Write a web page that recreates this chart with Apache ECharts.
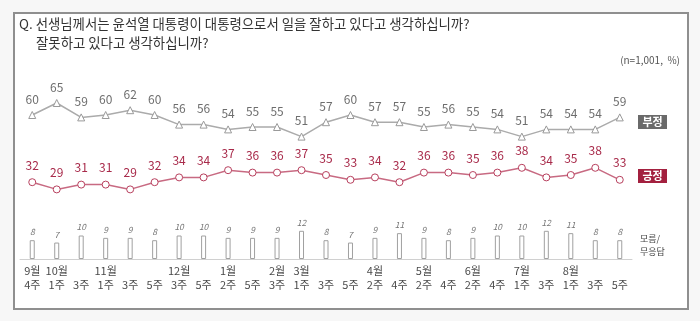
<!DOCTYPE html>
<html>
<head>
<meta charset="utf-8">
<script src="https://cdn.jsdelivr.net/npm/echarts@6/dist/echarts.min.js"></script>
<style>
html,body{margin:0;padding:0;background:#f7f7f7;}
#c{width:700px;height:321px;}
</style>
</head>
<body>
<div id="c"></div>
<script>
const months = ['9월','10월','','11월','','','12월','','1월','','2월','3월','','','4월','','5월','','6월','','7월','','8월','',''];
const weeks  = ['4주','1주','3주','1주','3주','5주','3주','5주','2주','5주','3주','1주','3주','5주','2주','4주','2주','4주','2주','4주','1주','3주','1주','3주','5주'];
const negative = [60,65,59,60,62,60,56,56,54,55,55,51,57,60,57,57,55,56,55,54,51,54,54,54,59];
const positive = [32,29,31,31,29,32,34,34,37,36,36,37,35,33,34,32,36,36,35,36,38,34,35,38,33];
const dontKnow = [8,7,10,9,9,8,10,10,9,9,9,12,8,7,9,11,9,8,9,10,10,12,11,8,8];
const categories = months.map((m, i) => m + '\n' + weeks[i]);

const FONT = '"Noto Sans CJK KR", "Noto Sans", sans-serif';
const chart = echarts.init(document.getElementById('c'), null, {renderer: 'canvas'});

chart.setOption({
  animation: false,
  backgroundColor: '#f7f7f7',
  textStyle: {fontFamily: FONT},
  grid: [
    {left: 20, width: 612, top: 91, height: 108},
    {left: 20, width: 612, top: 212, height: 47}
  ],
  xAxis: [
    {gridIndex: 0, type: 'category', data: categories, boundaryGap: true, show: false},
    {gridIndex: 1, type: 'category', data: categories, boundaryGap: true,
     axisLine: {lineStyle: {color: '#d0d0d0', width: 1}},
     axisTick: {show: false},
     axisLabel: {interval: 0, color: '#4a4a4a', fontSize: 11, lineHeight: 14, margin: 5, fontFamily: FONT}}
  ],
  yAxis: [
    {gridIndex: 0, type: 'value', min: 25, max: 70, show: false, splitLine: {show: false}},
    {gridIndex: 1, type: 'value', min: 0, max: 20, show: false, splitLine: {show: false}}
  ],
  series: [
    {
      name: '부정', type: 'line', xAxisIndex: 0, yAxisIndex: 0, data: negative,
      symbol: 'triangle', symbolSize: 7,
      lineStyle: {color: '#ababab', width: 1.5},
      itemStyle: {color: '#ffffff', borderColor: '#9a9a9a', borderWidth: 1},
      label: {show: true, position: 'top', distance: 6, color: '#6e6e6e', fontSize: 12, fontFamily: FONT}
    },
    {
      name: '긍정', type: 'line', xAxisIndex: 0, yAxisIndex: 0, data: positive,
      symbol: 'circle', symbolSize: 7,
      lineStyle: {color: '#c86a82', width: 1.5},
      itemStyle: {color: '#ffffff', borderColor: '#b8405e', borderWidth: 1},
      label: {show: true, position: 'top', distance: 7, color: '#a82a4a', fontSize: 12, fontFamily: FONT}
    },
    {
      name: '모름/무응답', type: 'bar', xAxisIndex: 1, yAxisIndex: 1, data: dontKnow,
      barWidth: 5,
      itemStyle: {color: '#ffffff', borderColor: '#a0a0a0', borderWidth: 1},
      label: {show: true, position: 'top', distance: 4, color: '#777777', fontSize: 8.5, fontStyle: 'italic', fontFamily: FONT}
    }
  ],
  graphic: [
    {type: 'rect', left: 13, top: 12, z: -10, silent: true,
     shape: {width: 674, height: 296}, style: {fill: '#ffffff', stroke: '#8f8f8f', lineWidth: 2}},
    {type: 'text', left: 19, top: 17, style: {text: 'Q. 선생님께서는 윤석열 대통령이 대통령으로서 일을 잘하고 있다고 생각하십니까?', fill: '#333', font: '13.4px ' + FONT}},
    {type: 'text', left: 36, top: 36, style: {text: '잘못하고 있다고 생각하십니까?', fill: '#333', font: '13.4px ' + FONT}},
    {type: 'text', right: 20, top: 55, style: {text: '(n=1,001,  %)', fill: '#555', font: '10px ' + FONT}},
    {type: 'group', left: 638, top: 115, children: [
      {type: 'rect', shape: {x: 0, y: 0, width: 29, height: 14}, style: {fill: '#6a6a6a'}},
      {type: 'text', x: 14.5, y: 7, style: {text: '부정', fill: '#fff', font: 'bold 11px ' + FONT, align: 'center', verticalAlign: 'middle'}}
    ]},
    {type: 'group', left: 638, top: 169, children: [
      {type: 'rect', shape: {x: 0, y: 0, width: 29, height: 14}, style: {fill: '#a3203f'}},
      {type: 'text', x: 14.5, y: 7, style: {text: '긍정', fill: '#fff', font: 'bold 11px ' + FONT, align: 'center', verticalAlign: 'middle'}}
    ]},
    {type: 'text', left: 640, top: 232, style: {text: '모름/\n무응답', fill: '#444', font: '9px ' + FONT, lineHeight: 13, align: 'center', x: 13}}
  ]
});
</script>
</body>
</html>
